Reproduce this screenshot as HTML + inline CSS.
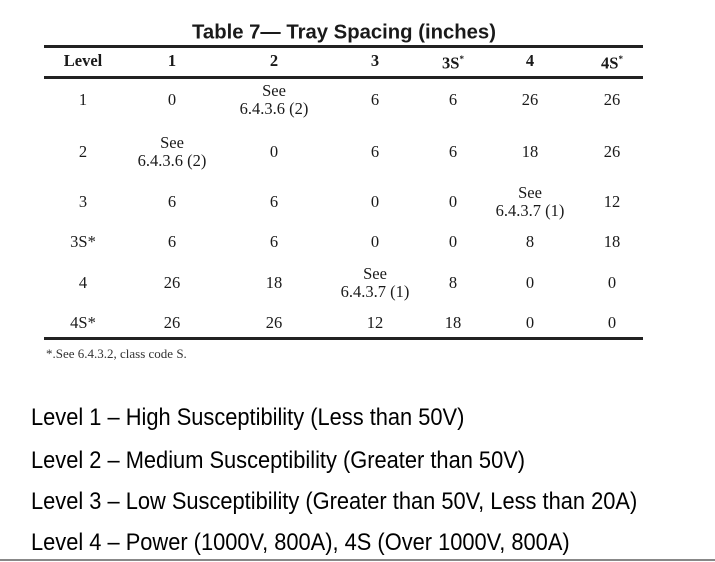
<!DOCTYPE html>
<html><head><meta charset="utf-8"><style>
body{margin:0;width:715px;height:562px;background:#fff;position:relative;overflow:hidden;font-family:"Liberation Serif",serif;color:#1a1a1a}
.c{position:absolute;transform:translate(-50%,-50%);text-align:center;font-size:16.5px;line-height:18px;white-space:nowrap}
.h{font-weight:bold}
.rule{position:absolute;left:44px;width:599px;height:3px;background:#222}
.t{position:absolute;font-family:"Liberation Sans",sans-serif;font-size:24px;left:31px;color:#000;white-space:nowrap;transform:scaleX(0.91);transform-origin:0 0}
</style></head><body>
<div style="position:absolute;left:344px;top:33px;transform:translate(-50%,-50%);font-family:'Liberation Sans',sans-serif;font-weight:bold;font-size:20.3px;white-space:nowrap">Table 7— Tray Spacing (inches)</div>
<div class="rule" style="top:45px"></div>
<div class="rule" style="top:76px"></div>
<div class="rule" style="top:337px"></div>
<div id="tbl"></div>
<div style="position:absolute;left:46px;top:346px;font-size:13px;color:#333">*.See 6.4.3.2, class code S.</div>
<div class="t" style="top:404px">Level 1 – High Susceptibility (Less than 50V)</div>
<div class="t" style="top:447px">Level 2 – Medium Susceptibility (Greater than 50V)</div>
<div class="t" style="top:488px">Level 3 – Low Susceptibility (Greater than 50V, Less than 20A)</div>
<div class="t" style="top:529px">Level 4 – Power (1000V, 800A), 4S (Over 1000V, 800A)</div>
<div style="position:absolute;left:0;top:559px;width:715px;height:2px;background:#888"></div>
<script>
const headers=["Level","1","2","3","3S<sup style='font-size:9px'>*</sup>","4","4S<sup style='font-size:9px'>*</sup>"];
const rowLabels=["1","2","3","3S*","4","4S*"];
const cells=[
["0","See<br>6.4.3.6 (2)","6","6","26","26"],
["See<br>6.4.3.6 (2)","0","6","6","18","26"],
["6","6","0","0","See<br>6.4.3.7 (1)","12"],
["6","6","0","0","8","18"],
["26","18","See<br>6.4.3.7 (1)","8","0","0"],
["26","26","12","18","0","0"]];
const colX=[83,172,274,375,453,530,612];
const rowY=[100,152,202,242,283,323];
const t=document.getElementById('tbl');
function add(html,x,y,cls,name){const d=document.createElement('div');d.className='c '+cls;d.innerHTML=html;d.style.left=x+'px';d.style.top=y+'px';


t.appendChild(d);}
headers.forEach((h,i)=>add(h,colX[i],61,'h','column-header'));
rowLabels.forEach((r,i)=>{add(r,colX[0],rowY[i],'','row-label');cells[i].forEach((v,j)=>add(v,colX[j+1],rowY[i],'','table-cell'));});
</script>
</body></html>
